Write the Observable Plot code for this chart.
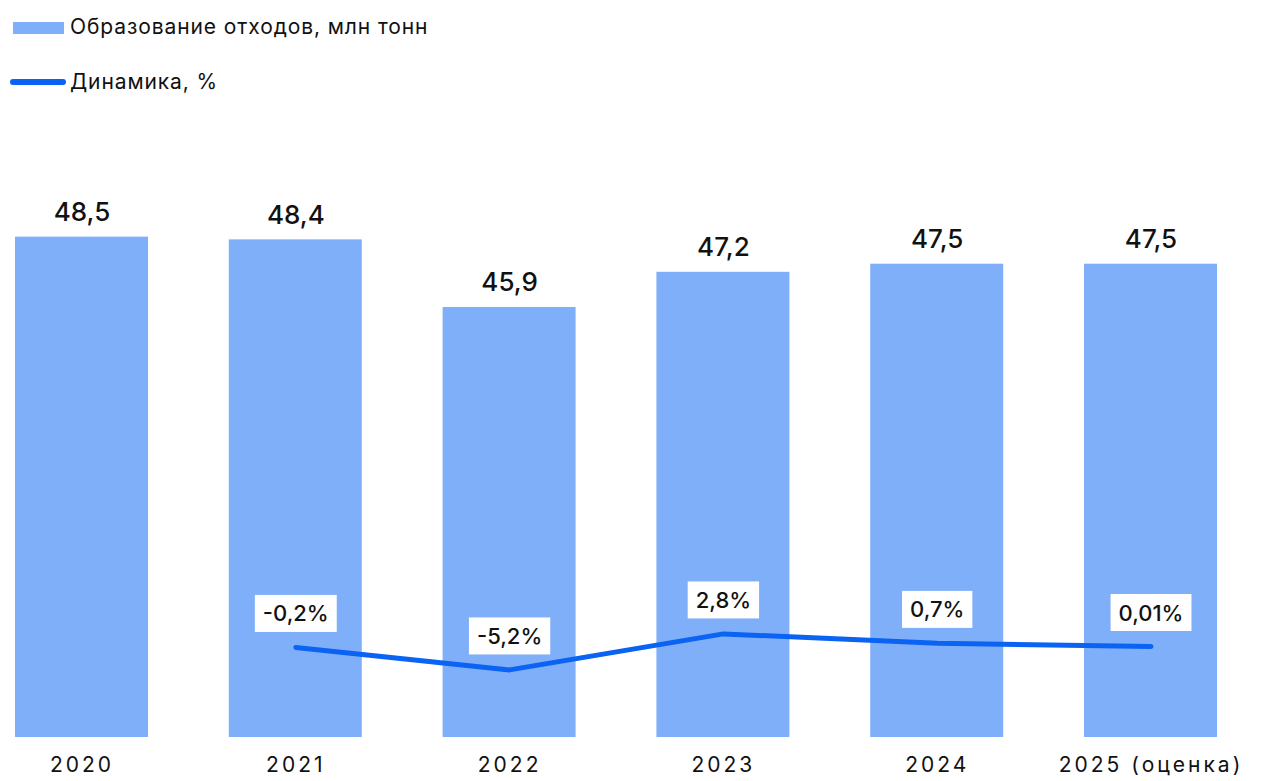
<!DOCTYPE html>
<html><head><meta charset="utf-8">
<script src="https://cdn.jsdelivr.net/npm/d3@7"></script>
<script src="https://cdn.jsdelivr.net/npm/@observablehq/plot@0.6"></script>
<style>
body{margin:0;background:#fff;font-family:Inter, sans-serif;}
#wrap{position:relative;width:1264px;height:781px;overflow:hidden}
#legend{position:absolute;left:0;top:0;width:1264px;height:130px}
.li{position:absolute;left:70px;font-size:21px;line-height:20px;letter-spacing:0.9px;color:#111;white-space:nowrap}
#chart{position:absolute;left:0;top:130px}
#overlay{position:absolute;left:0;top:130px}
g[aria-label="x-axis tick label"] text{letter-spacing:3px}
</style></head><body>
<div id="wrap">
 <div id="legend">
   <div style="position:absolute;left:13px;top:22px;width:51px;height:11.5px;background:#80AFF9"></div>
   <div class="li" style="top:17px">Образование отходов, млн тонн</div>
   <div style="position:absolute;left:10px;top:79px;width:56px;height:5.5px;border-radius:3px;background:#0A63F3"></div>
   <div class="li" style="top:72px">Динамика, %</div>
 </div>
 <div id="chart"></div><div id="overlay"></div>
</div>
<script>
const years = ["2020", "2021", "2022", "2023", "2024", "2025 (оценка)"];
const waste = [48.5, 48.4, 45.9, 47.2, 47.5, 47.5];
const wasteLabels = ["48,5", "48,4", "45,9", "47,2", "47,5", "47,5"];
const dynYears = ["2021", "2022", "2023", "2024", "2025 (оценка)"];
const dynamics = [-0.2, -5.2, 2.8, 0.7, 0.01];
const dynLabels = ["-0,2%", "-5,2%", "2,8%", "0,7%", "0,01%"];

const barColor = "#80AFF9";
const lineColor = "#0A63F3";

const barData = years.map((y, i) => ({year: y, value: waste[i], label: wasteLabels[i]}));
const dynData = dynYears.map((y, i) => ({year: y, value: dynamics[i], label: dynLabels[i]}));

const xOpts = {type: "band", domain: years, paddingInner: 0.378, paddingOuter: 0, align: 0.5, round: false};

const p1 = Plot.plot({
  width: 1264, height: 651,
  marginLeft: 15, marginRight: 47, marginTop: 12, marginBottom: 44,
  x: {...xOpts, axis: null},
  y: {domain: [30, 52], axis: null},
  style: {fontFamily: "Inter, sans-serif", background: "transparent", color: "#111"},
  marks: [
    Plot.barY(barData, {x: "year", y1: 30, y2: "value", fill: barColor}),
    Plot.text(barData, {x: "year", y: "value", text: "label", lineAnchor: "bottom", dy: -16, fontSize: 26, fontWeight: 500, fill: "#111"}),
    Plot.axisX({tickSize: 0, tickPadding: 20, fontSize: 21, label: null, fill: "#111"})
  ]
});
document.getElementById("chart").appendChild(p1);

const p2 = Plot.plot({
  width: 1264, height: 651,
  marginLeft: 15, marginRight: 47, marginTop: 426, marginBottom: 45,
  x: {...xOpts, axis: null},
  y: {domain: [-20, 20], axis: null},
  style: {fontFamily: "Inter, sans-serif", background: "transparent", color: "#111"},
  marks: [
    Plot.line(dynData, {x: "year", y: "value", stroke: lineColor, strokeWidth: 5, strokeLinecap: "round", strokeLinejoin: "round"}),
    Plot.text(dynData, {x: "year", y: "value", text: "label", dy: -33, fontSize: 22, fontWeight: 500, fill: "#111"})
  ]
});
document.getElementById("overlay").appendChild(p2);

p2.querySelectorAll('g[aria-label="text"] text').forEach(t => {
  const b = t.getBBox();
  const r = document.createElementNS("http://www.w3.org/2000/svg", "rect");
  r.setAttribute("x", b.x - 8);
  r.setAttribute("width", b.width + 16);
  r.setAttribute("y", b.y + b.height / 2 - 18.5);
  r.setAttribute("height", 37);
  r.setAttribute("fill", "#fff");
  if (t.getAttribute("transform")) r.setAttribute("transform", t.getAttribute("transform"));
  t.parentNode.insertBefore(r, t);
});
</script>
</body></html>
